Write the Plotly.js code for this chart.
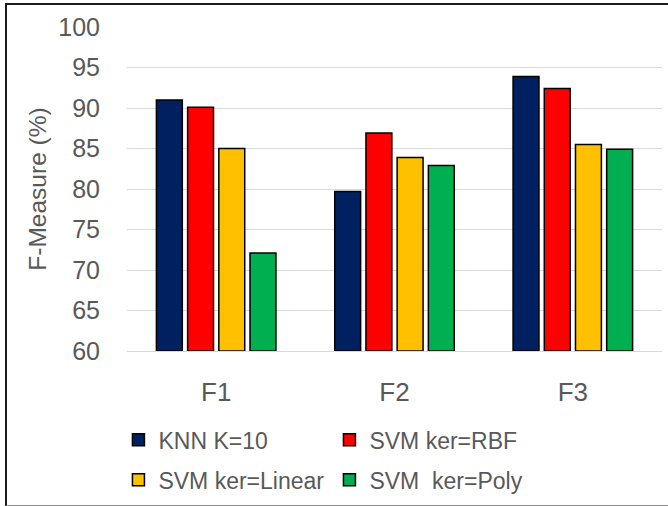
<!DOCTYPE html>
<html>
<head>
<meta charset="utf-8">
<script src="https://cdn.plot.ly/plotly-3.0.1.min.js"></script>
<style>
  html, body { margin: 0; padding: 0; background: #fff; }
  #wrap { position: relative; width: 668px; height: 506px; overflow: hidden; }
  #chart { position: absolute; left: 0; top: 0; width: 668px; height: 506px; }
  #frame { position: absolute; left: 5px; top: 3px; width: 680px; height: 500px;
           border-left: 2px solid #1a1a1a; border-top: 2px solid #1a1a1a;
           border-bottom: 1px solid #8c8c8c; pointer-events: none; }
</style>
</head>
<body>
<div id="wrap">
  <div id="chart"></div>
  <div id="frame"></div>
</div>
<script>
const categories = ["F1", "F2", "F3"];
const seriesNames = ["KNN K=10", "SVM ker=RBF", "SVM ker=Linear", "SVM  ker=Poly"];
const knn = [91.0, 79.7, 93.9];
const svmRbf = [90.1, 86.9, 92.4];
const svmLinear = [85.0, 83.9, 85.5];
const svmPoly = [72.1, 82.9, 84.9];
const yTicks = [60, 65, 70, 75, 80, 85, 90, 95, 100];

const colors = ["#002060", "#FF0000", "#FFC000", "#00B050"];
const seriesValues = [knn, svmRbf, svmLinear, svmPoly];
const legendIds = ["legend", "legend", "legend2", "legend2"];

const font = "Liberation Sans, Arial, sans-serif";
const gray = "#595959";

const traces = seriesValues.map((vals, i) => ({
  type: "bar",
  name: seriesNames[i],
  x: categories,
  y: vals.map(v => v - 60),
  base: 60,
  marker: { color: colors[i], line: { color: "#000000", width: 1.5 } },
  legend: legendIds[i],
  hoverinfo: "skip"
}));

const legendCommon = {
  orientation: "h",
  xanchor: "left",
  yanchor: "middle",
  entrywidth: 166,
  entrywidthmode: "pixels",
  font: { family: font, size: 23, color: gray },
  bgcolor: "rgba(0,0,0,0)",
  itemclick: false,
  itemdoubleclick: false
};

const layout = {
  width: 668,
  height: 506,
  margin: { l: 127, r: 6, t: 27, b: 154 },
  paper_bgcolor: "#ffffff",
  plot_bgcolor: "#ffffff",
  barmode: "group",
  bargap: 0.3,
  bargroupgap: 0.17,
  showlegend: true,
  font: { family: font, color: gray },
  xaxis: {
    type: "category",
    showgrid: false,
    showline: true,
    linecolor: "#d9d9d9",
    linewidth: 1,
    ticks: "",
    tickfont: { family: font, size: 26, color: gray },
    ticklabelstandoff: 18
  },
  yaxis: {
    range: [60, 100],
    tickvals: yTicks,
    ticktext: yTicks.map(String),
    showgrid: true,
    gridcolor: "#d9d9d9",
    gridwidth: 1,
    zeroline: false,
    showline: false,
    ticks: "",
    tickfont: { family: font, size: 25, color: gray },
    ticklabelstandoff: 26,
    title: { text: "F-Measure (%)", font: { family: font, size: 24.5, color: gray }, standoff: 4 }
  },
  legend: Object.assign({}, legendCommon, { x: -0.016, y: -0.27 }),
  legend2: Object.assign({}, legendCommon, { x: -0.016, y: -0.393 })
};

Plotly.newPlot("chart", traces, layout, { staticPlot: true, displayModeBar: false });
</script>
</body>
</html>
